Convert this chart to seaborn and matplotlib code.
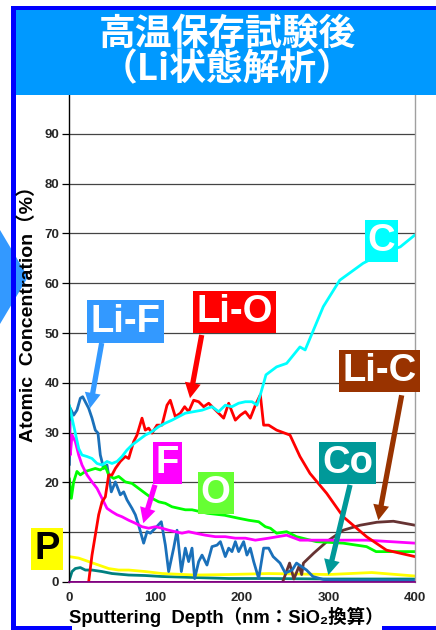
import numpy as np
import pandas as pd
import matplotlib
matplotlib.use("Agg")
import matplotlib.pyplot as plt
import seaborn as sns
from matplotlib.patches import Rectangle, Polygon

# ---------------- data ----------------
x_tick_vals = [0, 100, 200, 300, 400]
y_tick_vals = [0, 10, 20, 30, 40, 50, 60, 70, 80, 90]
# the "10" label is hidden behind the "P" box in the reference
y_tick_text = ["0", "", "20", "30", "40", "50", "60", "70", "80", "90"]

lif_x = [0.4, 1.5, 5.4, 9.2, 13.1, 15.8, 19.7, 22.7, 26.6, 30.4, 33.5, 36.2, 40.1, 43.9, 48.9, 53.6,
         59.3, 63.2, 67.0, 72.8, 76.7, 80.5, 86.3, 90.2, 94.0, 99.8, 106.7, 111.4, 115.2, 121.0, 124.9,
         129.9, 134.5, 138.3, 142.2, 145.3, 149.9, 153.8, 159.5, 165.3, 171.1, 175.0, 180.7, 184.6,
         188.4, 192.3, 196.1, 201.9, 205.7, 209.6, 213.5, 219.3, 225.0, 230.8, 236.0, 244.0, 250.0,
         258.0, 263.0, 274.6, 282.0, 294.0, 320.0, 400.0]
lif_y = [23.5, 34.9, 33.5, 34.5, 36.9, 37.2, 35.9, 34.9, 32.9, 30.5, 29.9, 25.5, 22.8, 23.5, 18.1, 20.1,
         17.5, 18.1, 16.5, 14.8, 13.5, 11.4, 7.8, 10.1, 9.8, 10.8, 12.1, 7.4, 2.1, 6.8, 10.4,
         2.1, 6.8, 4.1, 6.8, 0.7, 4.1, 5.4, 3.4, 7.1, 7.4, 8.1, 5.1, 6.8,
         6.1, 8.1, 6.1, 8.1, 5.4, 6.8, 4.1, 0.7, 6.8, 6.8, 5.1, 3.8, 1.8,
         2.4, 3.8, 2.4, 1.1, 0.5, 0.3, 0.3]

lio_x = [22.7, 26.6, 30.4, 34.3, 38.2, 42.0, 45.9, 49.7, 53.6, 59.3, 65.1, 69.0, 74.8, 78.6, 84.4,
         88.2, 92.1, 96.0, 101.7, 107.5, 113.3, 117.1, 122.9, 128.7, 133.7, 138.3, 144.1, 149.9,
         155.7, 161.5, 167.2, 173.0, 178.8, 184.6, 188.4, 192.3, 198.1, 203.9, 209.6, 215.4, 221.2,
         225.0, 230.8, 240.0, 255.5, 267.0, 278.6, 297.9, 317.0, 344.0, 367.0, 400.0]
lio_y = [0.0, 5.4, 9.4, 13.5, 16.1, 17.1, 21.5, 21.5, 22.8, 24.2, 25.2, 24.8, 28.2, 29.5, 32.9,
         30.5, 30.9, 29.9, 31.5, 31.5, 35.5, 36.5, 33.2, 33.9, 35.2, 34.2, 36.5, 36.2,
         35.2, 35.9, 34.9, 33.9, 32.9, 35.9, 34.2, 32.5, 33.5, 34.2, 32.9, 35.5, 37.6,
         31.5, 31.5, 30.5, 29.5, 25.2, 21.8, 17.8, 13.1, 9.1, 6.4, 5.1]

c_x = [0.4, 3.5, 7.3, 11.2, 15.0, 20.8, 26.6, 32.4, 38.2, 43.9, 49.7, 55.5, 61.3, 67.0, 72.8, 80.5,
       88.2, 96.0, 103.7, 111.4, 119.1, 126.8, 134.5, 144.1, 153.8, 165.3, 173.0, 180.7, 188.4,
       196.1, 203.9, 211.6, 217.3, 221.2, 225.0, 227.7, 240.0, 251.6, 267.0, 273.0, 294.0, 313.0,
       340.0, 362.0, 383.0, 400.0]
c_y = [35.5, 32.9, 29.9, 26.8, 25.5, 25.2, 24.8, 23.8, 23.5, 24.2, 23.8, 24.2, 25.2, 26.5, 27.5, 28.5,
       29.5, 30.2, 31.2, 31.9, 32.5, 33.2, 33.9, 34.2, 34.5, 35.2, 34.2, 35.5, 35.2,
       35.9, 36.2, 36.2, 35.5, 37.6, 39.9, 41.6, 43.2, 43.9, 47.2, 46.6, 55.3, 60.6,
       64.0, 66.0, 67.3, 69.7]

o_x = [0.4, 2.7, 5.4, 9.2, 13.1, 18.9, 24.7, 30.4, 36.2, 42.0, 45.9, 51.6, 57.4, 65.1, 72.8, 80.5,
       88.2, 96.0, 103.7, 111.4, 119.1, 126.8, 134.5, 142.2, 160.0, 180.0, 196.1, 207.7, 219.3,
       227.0, 232.8, 240.0, 251.6, 263.0, 286.0, 317.0, 344.0, 355.0, 400.0]
o_y = [20.8, 16.8, 20.1, 22.2, 21.5, 22.2, 22.5, 22.8, 22.5, 23.2, 21.5, 20.8, 21.2, 20.1, 19.8, 18.8,
       17.8, 16.8, 16.1, 15.8, 15.1, 14.8, 14.5, 14.5, 13.8, 13.4, 12.8, 12.4, 12.1,
       11.1, 10.8, 9.8, 10.1, 9.1, 8.1, 7.8, 7.1, 6.1, 6.1]

f_x = [0.4, 1.5, 3.5, 7.3, 11.2, 15.0, 20.8, 26.6, 32.4, 38.2, 43.9, 49.7, 55.5, 61.3, 69.0, 76.7,
       84.4, 92.1, 99.8, 107.5, 115.2, 122.9, 130.6, 138.3, 146.0, 157.6, 169.2, 180.7, 192.3,
       203.9, 215.4, 230.8, 251.6, 267.0, 305.0, 344.0, 400.0]
f_y = [32.2, 25.5, 29.5, 28.2, 25.5, 23.5, 21.5, 20.1, 18.8, 16.8, 14.8, 14.1, 13.5, 13.1, 12.4, 11.8,
       11.1, 10.8, 11.1, 10.8, 10.4, 10.1, 9.8, 10.1, 9.8, 9.4, 9.1, 9.1, 8.8,
       8.8, 8.4, 8.8, 9.4, 8.4, 8.4, 8.4, 7.8]

p_x = [0.4, 11.2, 22.7, 34.3, 45.9, 57.4, 69.0, 88.2, 107.5, 146.0, 184.6, 230.8, 300.0, 350.0, 400.0]
p_y = [5.1, 4.8, 4.1, 3.4, 2.7, 2.4, 2.4, 2.1, 1.7, 1.4, 1.5, 1.7, 1.5, 1.9, 1.2]

co_x = [0.4, 3.5, 7.3, 13.1, 18.9, 26.6, 38.2, 49.7, 69.0, 88.2, 107.5, 146.0, 184.6, 230.8, 300.0, 400.0]
co_y = [0.4, 2.1, 2.7, 2.9, 2.4, 2.4, 2.1, 1.7, 1.4, 1.3, 1.1, 0.9, 0.7, 0.7, 0.6, 0.6]

lic_x = [247.0, 255.0, 260.0, 266.0, 269.0, 271.0, 283.0, 298.0, 317.0, 336.5, 356.0, 375.0, 400.0]
lic_y = [0.0, 3.8, 0.6, 3.2, 1.5, 3.8, 5.8, 8.1, 10.4, 11.4, 12.0, 12.2, 11.4]

base_x = [0.0, 400.0]
base_y = [0.0, 0.0]

# series: (x, y, line colour)
series = [
    (base_x, base_y, "#800080"),
    (co_x, co_y, "#008080"),
    (p_x, p_y, "#FFFF00"),
    (lic_x, lic_y, "#663333"),
    (lif_x, lif_y, "#1A70BA"),
    (o_x, o_y, "#00FF00"),
    (f_x, f_y, "#FF00FF"),
    (lio_x, lio_y, "#FF0000"),
    (c_x, c_y, "#00FFFF"),
]

# labels: text, box centre (data), box colour, text colour
label_text = ["Li-F", "Li-O", "C", "Li-C", "Co", "F", "O", "P"]
label_pos = [(65.3, 52.3), (191.3, 54.2), (361.3, 68.5), (359.0, 42.4),
             (322.0, 23.9), (113.9, 23.9), (169.4, 17.9), (-25.4, 6.6)]
label_fc = ["#3399FF", "#FF0000", "#00FFFF", "#993300", "#009999", "#FF00FF", "#66FF33", "#FFFF00"]
label_tc = ["white", "white", "white", "white", "white", "white", "white", "black"]

# arrows: tail -> tip (data), colour
arrow_tail = [(37.8, 48.0), (153.4, 49.6), (99.4, 19.5), (384.6, 37.5), (324.9, 19.5)]
arrow_tip = [(24.3, 34.9), (139.9, 36.9), (85.9, 11.8), (357.6, 12.4), (299.8, 1.4)]
arrow_col = ["#3399FF", "#FF0000", "#FF00FF", "#993300", "#009999"]

title_text = "高温保存試験後\n（Li状態解析）"
x_label = "Sputtering  Depth（nm：SiO₂換算）"
y_label = "Atomic  Concentration（%）"

# ---------------- figure ----------------
sns.set_theme(style="white")
plt.rcParams["font.family"] = ["Liberation Sans", "Noto Sans CJK JP", "DejaVu Sans"]

W, H = 436, 630
fig = plt.figure(figsize=(W / 100, H / 100), dpi=100)
fig.patch.set_facecolor("white")

def fx(px):
    return px / W

def fy(py):
    return 1 - py / H

ax = fig.add_axes([fx(69), fy(582), (415 - 69) / W, (582 - 84) / H])
ax.set_xlim(0, 400)
ax.set_ylim(0, 100)

for xs, ys, col in series:
    df = pd.DataFrame({"x": xs, "y": ys})
    sns.lineplot(data=df, x="x", y="y", color=col, lw=2.0, ax=ax, legend=False,
                 estimator=None, sort=False)

ax.set_xticks(x_tick_vals)
ax.set_yticks(y_tick_vals)
ax.set_xticklabels([str(v) for v in x_tick_vals])
ax.set_yticklabels(y_tick_text)
ax.tick_params(axis="y", length=5, width=0.9, color="black", pad=2, labelsize=9.5, left=True)
ax.tick_params(axis="x", length=0, pad=7, labelsize=9.5)
for lab in ax.get_xticklabels() + ax.get_yticklabels():
    lab.set_fontweight("bold")
ax.set_xlabel("")
ax.set_ylabel("")
for yv in y_tick_vals[1:]:
    ax.axhline(yv, color="#444444", lw=0.9, zorder=0.5)
ax.spines["top"].set_visible(False)
ax.spines["left"].set_color("black")
ax.spines["left"].set_linewidth(1.0)
ax.spines["right"].set_color("#A0A0A0")
ax.spines["right"].set_linewidth(1.0)
ax.spines["bottom"].set_color("#800080")

for (tx, ty), (hx, hy), col in zip(arrow_tail, arrow_tip, arrow_col):
    ax.annotate("", xy=(hx, hy), xytext=(tx, ty),
                arrowprops=dict(facecolor=col, edgecolor="none", width=3.8,
                                headwidth=11.5, headlength=11, shrink=0),
                annotation_clip=False, zorder=8)

for t, (px_, py_), fc, tc in zip(label_text, label_pos, label_fc, label_tc):
    ax.text(px_, py_, t, ha="center", va="center", color=tc, fontsize=27.5,
            fontweight="bold", clip_on=False, zorder=10,
            bbox=dict(boxstyle="square,pad=0.08", fc=fc, ec="none"))

# ---------------- frame decorations ----------------
blue = "#0000FF"
fig.patches.append(Polygon([(fx(0), fy(230)), (fx(28), fy(277)), (fx(0), fy(324))],
                           closed=True, transform=fig.transFigure, fc="#3399FF", ec="none", zorder=1))
fig.patches.append(Rectangle((fx(11), fy(630)), fx(5), 624 / H, transform=fig.transFigure,
                             fc=blue, ec="none", zorder=2))
fig.patches.append(Rectangle((fx(11), fy(10)), fx(425), 4 / H, transform=fig.transFigure,
                             fc=blue, ec="none", zorder=2))
fig.patches.append(Rectangle((fx(11), fy(630)), fx(425), 4 / H, transform=fig.transFigure,
                             fc=blue, ec="none", zorder=2))
fig.patches.append(Rectangle((fx(16), fy(95)), fx(420), 85 / H, transform=fig.transFigure,
                             fc="#0099FF", ec="none", zorder=2))
fig.patches.append(Rectangle((fx(72), fy(630)), fx(310), 28 / H, transform=fig.transFigure,
                             fc="white", ec="none", zorder=3))

fig.text(fx(227), fy(52), title_text, ha="center", va="center", color="white",
         fontsize=26.5, fontweight="bold", linespacing=0.96, multialignment="center",
         family=["Noto Sans CJK JP", "DejaVu Sans"], zorder=5)

fig.text(fx(226), fy(623), x_label, ha="center", va="baseline", color="black",
         fontsize=13.3, fontweight="bold", zorder=5)
fig.text(fx(28), fy(309), y_label, ha="center", va="center", rotation=90, color="black",
         fontsize=14, fontweight="bold", zorder=5)

fig.savefig("out.png", dpi=100)
